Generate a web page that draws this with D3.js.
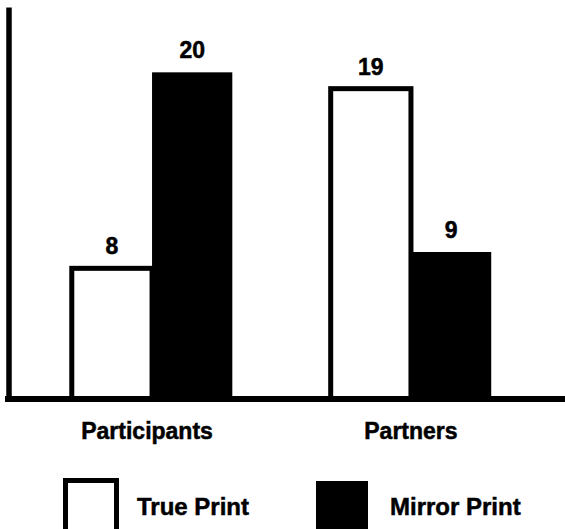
<!DOCTYPE html>
<html>
<head>
<meta charset="utf-8">
<script src="https://cdn.jsdelivr.net/npm/d3@7/dist/d3.min.js"></script>
<style>
  html, body { margin: 0; padding: 0; background: #fff; }
  svg { display: block; }
  text { font-family: "Liberation Sans", Arial, Helvetica, sans-serif; font-weight: bold; fill: #000; stroke: #000; stroke-width: 0.5px; }
</style>
</head>
<body>
<svg id="chart" width="565" height="529"></svg>
<script>
// Groups, series and counts
const groups = ["Participants", "Partners"];
const seriesNames = ["True Print", "Mirror Print"];
const truePrint = [8, 19];
const mirrorPrint = [20, 9];

const svg = d3.select("#chart");
const W = 565, H = 529;
const baseY = 399;

const y = d3.scaleLinear().domain([0, 24]).range([baseY, 7]);
const x0 = d3.scaleBand().domain(groups).range([20, 543]).paddingInner(0.38).paddingOuter(0.2);
const x1 = d3.scaleBand().domain(seriesNames).range([0, x0.bandwidth()]).padding(0);

const fills = { "True Print": "#fff", "Mirror Print": "#000" };
const strokeW = 5;

const rows = groups.map((g, i) => ({
  group: g,
  values: [
    { series: "True Print", value: truePrint[i] },
    { series: "Mirror Print", value: mirrorPrint[i] }
  ]
}));

const g = svg.append("g");

const grp = g.selectAll("g.grp").data(rows).join("g")
  .attr("class", "grp")
  .attr("transform", d => `translate(${x0(d.group)},0)`);

grp.selectAll("rect").data(d => d.values).join("rect")
  .attr("x", d => x1(d.series))
  .attr("y", d => y(d.value))
  .attr("width", x1.bandwidth())
  .attr("height", d => baseY - y(d.value))
  .attr("fill", d => fills[d.series])
  .attr("stroke", "#000")
  .attr("stroke-width", d => d.series === "True Print" ? strokeW : 0);

grp.selectAll("text.val").data(d => d.values).join("text")
  .attr("class", "val")
  .attr("x", d => x1(d.series) + x1.bandwidth() / 2)
  .attr("y", d => y(d.value) - 14)
  .attr("text-anchor", "middle")
  .attr("font-size", 23)
  .text(d => d.value);

// Vertical axis (no ticks)
svg.append("g")
  .attr("transform", "translate(8.5,0)")
  .call(d3.axisLeft(y).tickValues([]).tickSizeOuter(0))
  .call(a => a.select(".domain").attr("stroke", "#000").attr("stroke-width", 5.5));

// Baseline
svg.append("line")
  .attr("x1", 5).attr("x2", W)
  .attr("y1", baseY).attr("y2", baseY)
  .attr("stroke", "#000").attr("stroke-width", 6);

// Category labels
svg.selectAll("text.cat").data(groups).join("text")
  .attr("class", "cat")
  .attr("x", d => x0(d) + x0.bandwidth() / 2 - (d === "Participants" ? 5 : 0))
  .attr("y", 439)
  .attr("text-anchor", "middle")
  .attr("font-size", 23)
  .text(d => d);

// Legend
const legendX = [65.5, 316];
const leg = svg.selectAll("g.leg").data(seriesNames).join("g")
  .attr("class", "leg")
  .attr("transform", (d, i) => `translate(${legendX[i]},0)`);

leg.append("rect")
  .attr("x", 0)
  .attr("y", (d, i) => i === 0 ? 480.5 : 481)
  .attr("width", (d, i) => i === 0 ? 51 : 52)
  .attr("height", 60)
  .attr("fill", d => fills[d])
  .attr("stroke", "#000")
  .attr("stroke-width", (d, i) => i === 0 ? strokeW : 0);

leg.append("text")
  .attr("x", (d, i) => i === 0 ? 71.5 : 74)
  .attr("y", 515)
  .attr("font-size", 24)
  .text(d => d);
</script>
</body>
</html>
